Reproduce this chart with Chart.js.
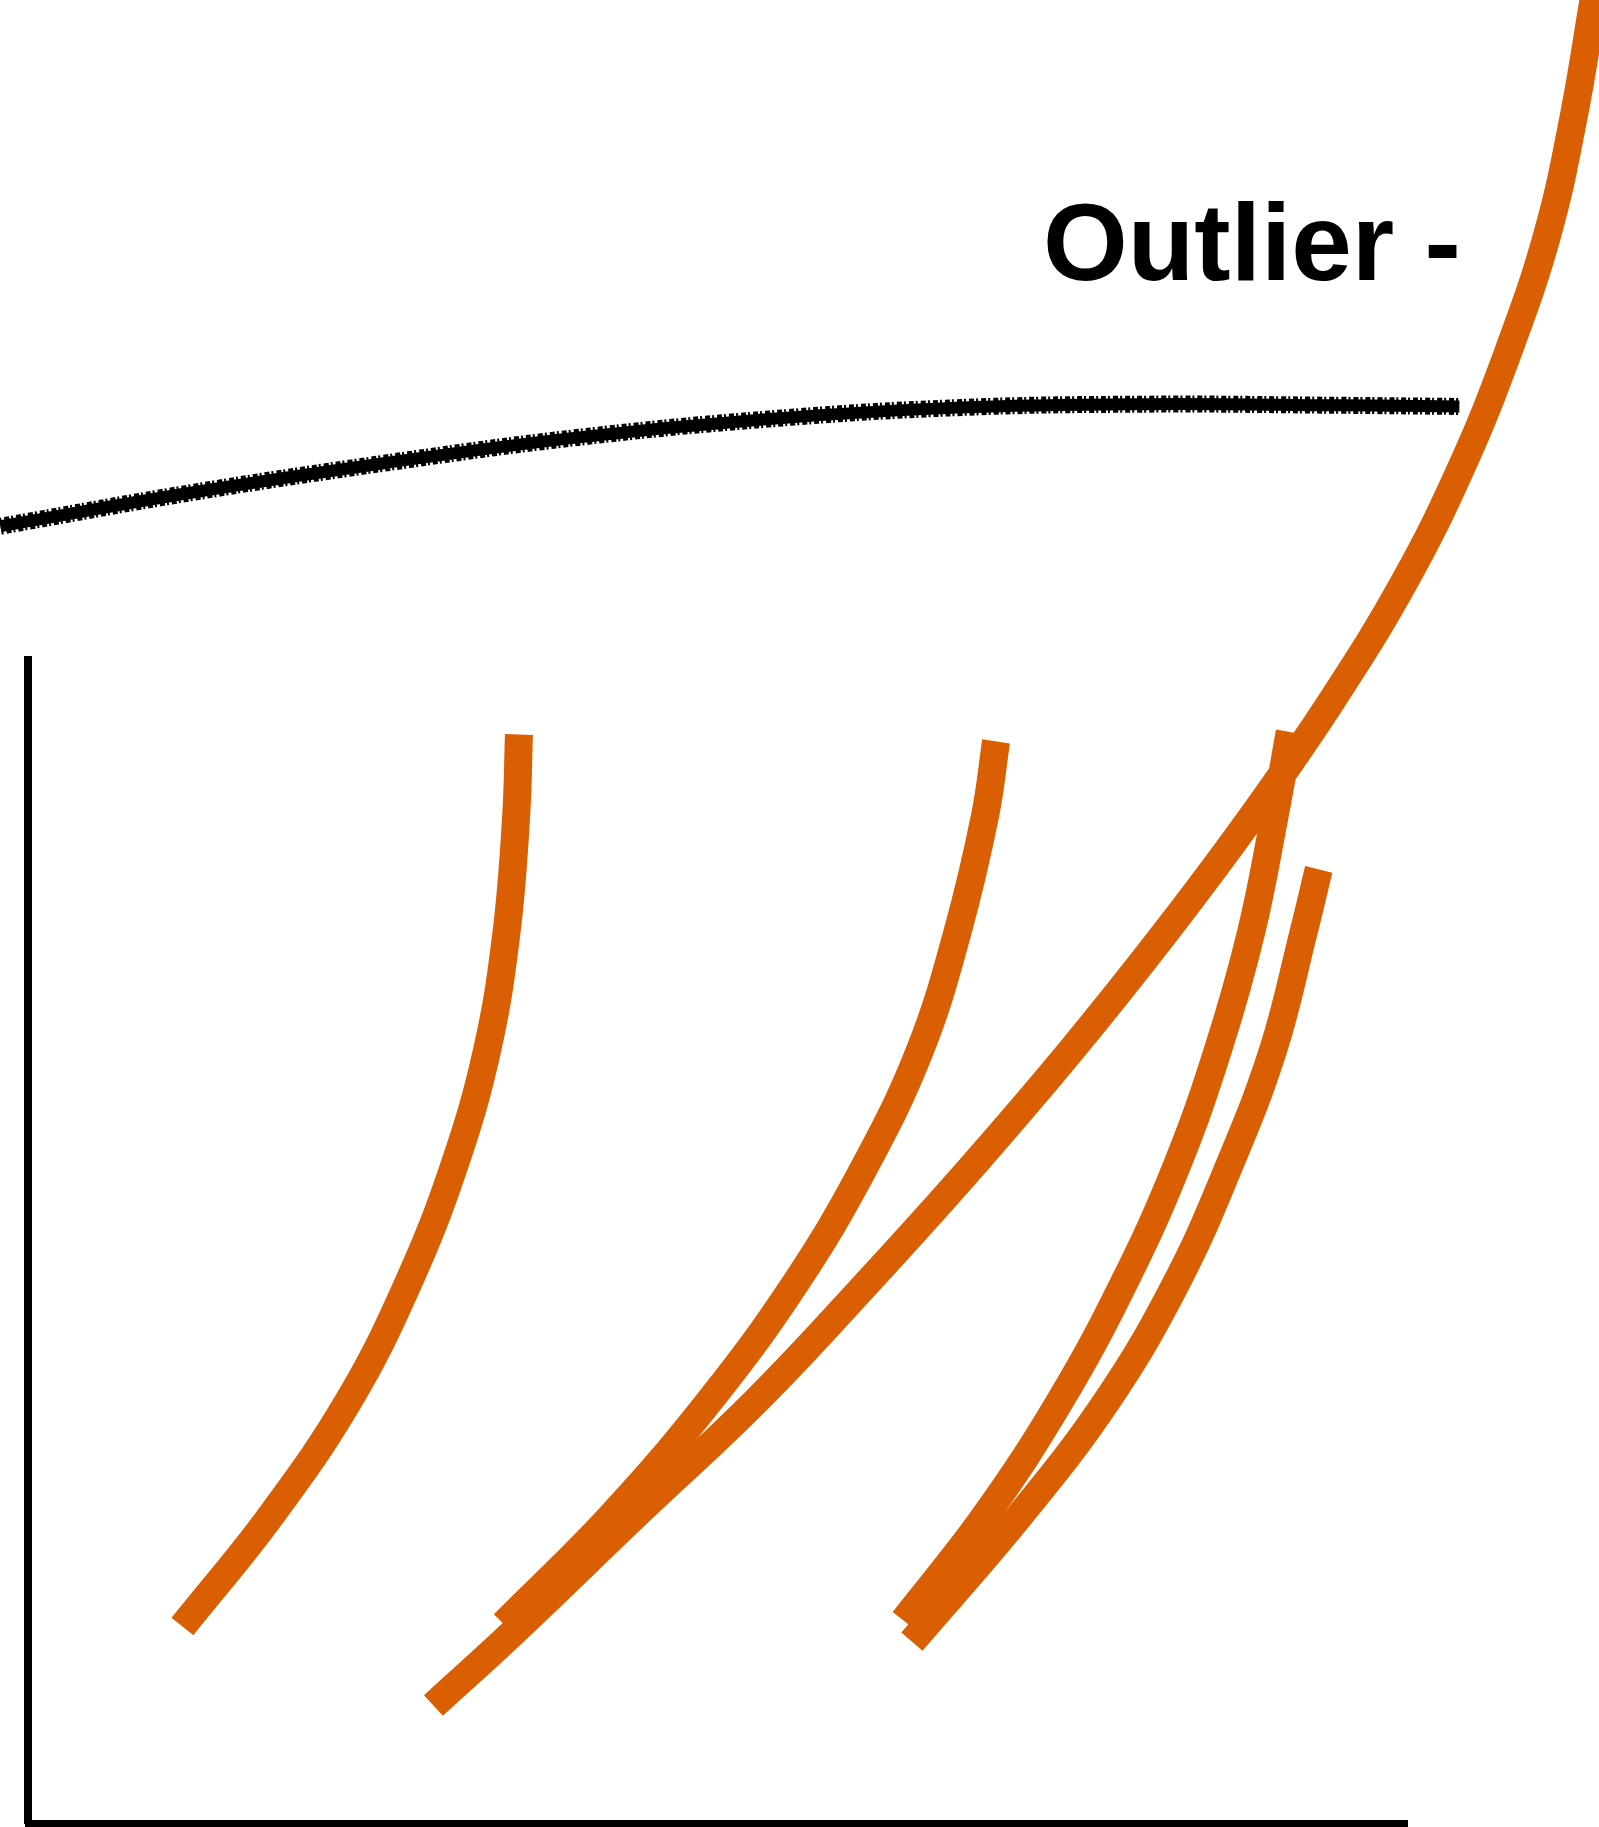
<!DOCTYPE html>
<html>
<head>
<meta charset="utf-8">
<script src="https://cdn.jsdelivr.net/npm/chart.js@4/dist/chart.umd.min.js"></script>
<style>
  html, body { margin: 0; padding: 0; background: #fff; }
  #wrap { position: relative; width: 1599px; height: 1827px; overflow: hidden; }
  #label {
    position: absolute; left: 1043px; top: 188px;
    font-family: "Liberation Sans", Arial, sans-serif; font-weight: bold;
    font-size: 109px; line-height: 1; color: #000; white-space: pre;
  }
</style>
</head>
<body>
<div id="wrap">
  <canvas id="sketch"></canvas>
  <div id="label">Outlier -</div>
</div>
<script>
// black trend line (drawn above the axes)
const trendX = [-2.0, 11.9, 25.7, 39.6, 53.5, 67.4, 81.2, 95.1, 103.8];
const trendY = [111.5, 114.4, 116.9, 119.1, 120.7, 121.7, 122.0, 121.9, 121.8];

// the long orange curve running off the top right
const outlierX = [29.4, 35.2, 44.0, 52.9, 60.9, 68.5, 75.7, 82.5, 88.8, 94.6, 99.8, 104.0, 107.4, 110.2, 112.1, 113.6];
const outlierY = [10.1, 16.4, 26.4, 36.4, 46.5, 56.5, 66.5, 76.6, 86.6, 96.6, 106.7, 116.7, 126.7, 136.7, 146.8, 157.3];

// the four shorter orange curves
const curveAX = [11.2, 17.6, 23.3, 27.6, 30.9, 33.3, 34.7, 35.4, 35.6];
const curveAY = [16.9, 26.4, 36.4, 46.5, 56.5, 66.5, 76.6, 86.6, 93.6];

const curveBX = [34.5, 42.3, 49.5, 55.7, 60.7, 64.7, 67.4, 69.4, 70.2];
const curveBY = [17.1, 26.4, 36.4, 46.5, 56.5, 66.5, 76.6, 86.6, 93.0];

const curveCX = [63.5, 69.4, 74.9, 79.5, 83.3, 86.3, 88.7, 90.4, 91.5];
const curveCY = [17.4, 26.4, 36.4, 46.5, 56.5, 66.5, 76.6, 86.6, 93.8];

const curveDX = [64.1, 71.9, 78.3, 83.3, 87.1, 90.3, 92.5, 93.6];
const curveDY = [15.6, 26.4, 36.4, 46.5, 56.5, 66.5, 76.6, 82.0];

const orange = "#d95f02";

function pts(xs, ys) {
  return xs.map((x, i) => ({ x: x, y: ys[i] }));
}

function orangeSet(xs, ys) {
  return {
    data: pts(xs, ys),
    borderColor: orange,
    borderWidth: 28,
    borderCapStyle: "butt"
  };
}

// fixed ranges without cutting off the points that run outside the plot
function fixRange(scale) {
  scale.min = 0;
  scale.max = 100;
}

const ctx = document.getElementById("sketch").getContext("2d");
new Chart(ctx, {
  type: "scatter",
  data: {
    datasets: [
      // rough pencil look: solid core plus a broken fuzzy edge
      { data: pts(trendX, trendY), borderColor: "#000", borderWidth: 12 },
      { data: pts(trendX, trendY), borderColor: "#000", borderWidth: 17, borderDash: [2, 3, 5, 2] },
      orangeSet(curveAX, curveAY),
      orangeSet(curveBX, curveBY),
      orangeSet(curveCX, curveCY),
      orangeSet(curveDX, curveDY),
      orangeSet(outlierX, outlierY)
    ].map(d => Object.assign({ showLine: true, pointRadius: 0, clip: false, tension: 0.4 }, d))
  },
  options: {
    responsive: true,
    maintainAspectRatio: false,
    animation: false,
    elements: { line: { capBezierPoints: false } },
    layout: { padding: { left: 28, top: 660, right: 192, bottom: 4 } },
    plugins: { legend: { display: false }, tooltip: { enabled: false } },
    scales: {
      x: {
        type: "linear",
        afterDataLimits: fixRange,
        afterFit: s => { s.height = 0; },
        ticks: { display: false },
        grid: { display: false },
        border: { color: "#000", width: 7 }
      },
      y: {
        type: "linear",
        afterDataLimits: fixRange,
        afterFit: s => { s.width = 0; },
        ticks: { display: false },
        grid: { display: false },
        border: { color: "#000", width: 8 }
      }
    }
  }
});
</script>
</body>
</html>
